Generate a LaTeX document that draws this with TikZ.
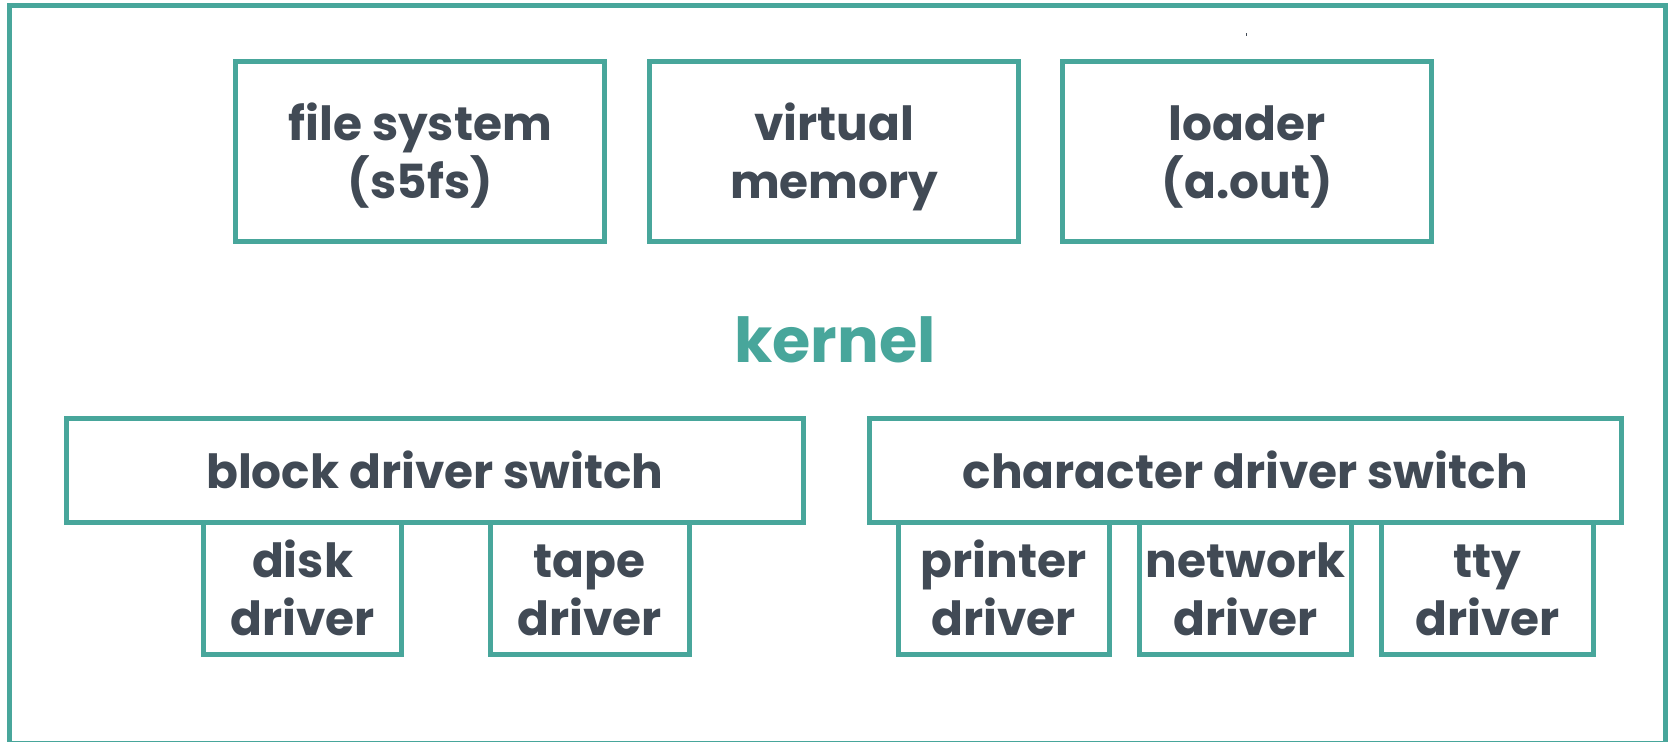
\documentclass[tikz,border=0pt]{standalone}
\usepackage{fontspec}
\setmainfont{Poppins}
\definecolor{teal}{HTML}{48A69B}
\definecolor{ink}{HTML}{414A55}
\newcommand\twoline[2]{\raisebox{-23.5pt}[0pt][0pt]{\vbox{\hbox to 0pt{\hss#1\hss}\hbox to 0pt{\hss#2\hss}}}}
\newcommand\oneline[1]{\raisebox{-8.9pt}[0pt][0pt]{\hbox to 0pt{\hss#1\hss}}}
\tikzset{
  box/.style={draw=teal, line width=2.5pt, inner sep=0pt, outer sep=0pt, text=ink,
    font=\bfseries\fontsize{23.5}{29}\selectfont},
  topbox/.style={box, minimum width=184.5pt, minimum height=89.75pt},
  switchbox/.style={box, minimum height=51.5pt},
  drvbox/.style={box, minimum height=66.25pt},
  frame/.style={draw=teal, line width=2.5pt},
  title/.style={text=teal, font=\bfseries\fontsize{31}{36}\selectfont, inner sep=0pt, anchor=base}
}
\begin{document}
\begin{tikzpicture}[x=0.5pt,y=-0.5pt]
\useasboundingbox (0,0) rectangle (1669,742);
\draw[frame] (9.8,5.7) rectangle (1665.5,743);
\fill[ink] (1245.5,33) rectangle (1246.5,36);

\node[topbox] (fs) at (420.3,151.75) {\twoline{file system}{(s5fs)}};
\node[topbox] (vm) at (834.2,151.75) {\twoline{virtual}{memory}};
\node[topbox] (ld) at (1247.3,151.75) {\twoline{loader}{(a.out)}};

\node[title] (kernel) at (835,362.3) {kernel};

\node[switchbox, minimum width=368.2pt] (bsw) at (434.85,470.5) {\oneline{block driver switch}};
\node[switchbox, minimum width=376.2pt] (csw) at (1245.25,470.5) {\oneline{character driver switch}};

\node[drvbox, minimum width=99.25pt] (disk) at (302.55,588.25) {\twoline{disk}{driver}};
\node[drvbox, minimum width=99.75pt] (tape) at (589.75,588.25) {\twoline{tape}{driver}};
\node[drvbox, minimum width=105.5pt] (prn) at (1003.5,588.25) {\twoline{printer}{driver}};
\node[drvbox, minimum width=106pt] (net) at (1245.5,588.25) {\twoline{network}{driver}};
\node[drvbox, minimum width=106pt] (tty) at (1487.5,588.25) {\twoline{tty}{driver}};
\end{tikzpicture}
\end{document}
